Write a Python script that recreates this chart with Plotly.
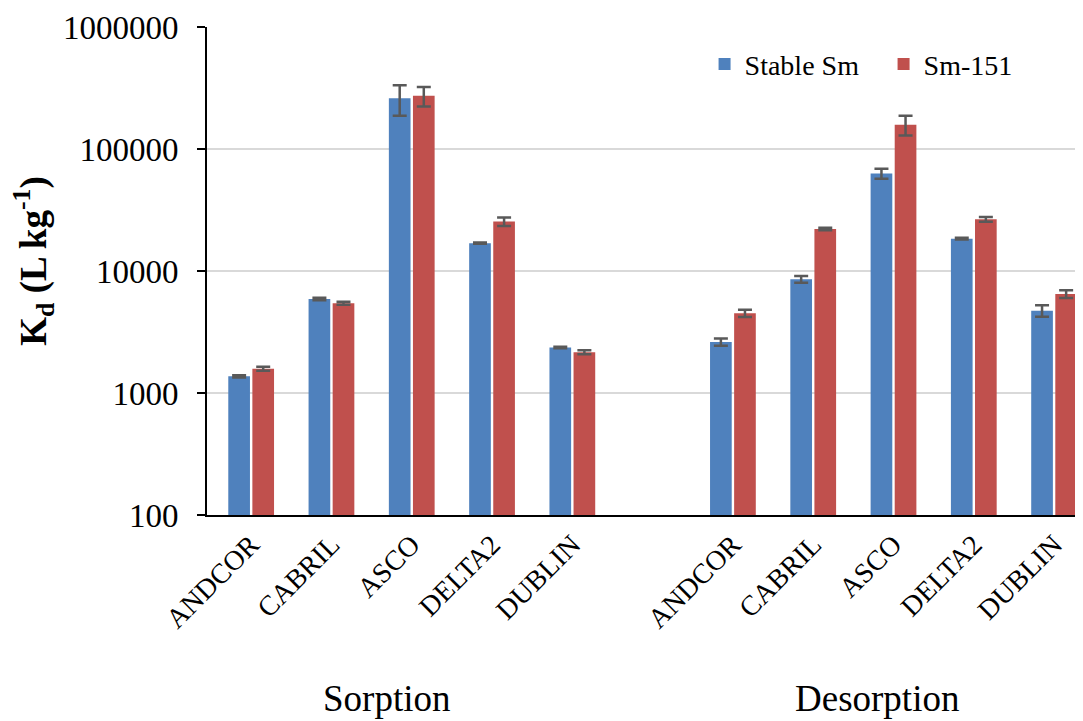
import plotly.graph_objects as go

categories = ["ANDCOR", "CABRIL", "ASCO", "DELTA2", "DUBLIN"]
groups = ["Sorption", "Desorption"]

sorption_stable = [1370, 5900, 260000, 16900, 2360]
sorption_stable_err = [30, 150, 73000, 200, 30]
sorption_sm151 = [1580, 5450, 273000, 25400, 2160]
sorption_sm151_err = [60, 150, 50000, 2000, 80]

desorption_stable = [2620, 8550, 63000, 18400, 4730]
desorption_stable_err = [180, 550, 5900, 300, 520]
desorption_sm151 = [4500, 22100, 158000, 26500, 6480]
desorption_sm151_err = [310, 500, 29000, 1200, 480]

y_tickvals = [100, 1000, 10000, 100000, 1000000]
y_ticktext = ["100", "1000", "10000", "100000", "1000000"]

# positions: 5 sorption slots, one empty slot, 5 desorption slots
xpos = list(range(0, 5)) + list(range(6, 11))
xlabels = categories + categories

stable = sorption_stable + desorption_stable
stable_err = sorption_stable_err + desorption_stable_err
sm151 = sorption_sm151 + desorption_sm151
sm151_err = sorption_sm151_err + desorption_sm151_err

FONT = "Liberation Serif, Times New Roman, serif"
ERRC = "#595959"

fig = go.Figure()
fig.add_trace(go.Bar(
    x=xpos, y=stable, name="Stable Sm",
    marker=dict(color="#4F81BD", line=dict(width=0)),
    error_y=dict(type="data", array=stable_err, visible=True,
                 color=ERRC, thickness=2.5, width=7),
))
fig.add_trace(go.Bar(
    x=xpos, y=sm151, name="Sm-151",
    marker=dict(color="#C0504D", line=dict(width=0)),
    error_y=dict(type="data", array=sm151_err, visible=True,
                 color=ERRC, thickness=2.5, width=7),
))

# page body has an 8px default margin, so the figure is 8px smaller
fig.update_layout(
    width=1075, height=713,
    margin=dict(l=199, r=0, t=19, b=206, autoexpand=False),
    paper_bgcolor="white", plot_bgcolor="white",
    barmode="group", bargap=0.4, bargroupgap=0.1,
    font=dict(family=FONT, color="black"),
    showlegend=True,
    legend=dict(orientation="h", x=0.568, y=0.975, xanchor="left", yanchor="top",
                font=dict(size=28, family=FONT), bgcolor="rgba(0,0,0,0)",
                itemwidth=30, tracegroupgap=0,
                entrywidth=134, entrywidthmode="pixels"),
)

fig.update_xaxes(
    tickmode="array", tickvals=xpos, ticktext=xlabels,
    range=[-0.55, 10.36], tickangle=-45,
    tickfont=dict(size=28, family=FONT),
    showline=True, linecolor="black", linewidth=2,
    showgrid=False, ticks="", zeroline=False, automargin=False,
)
fig.update_yaxes(
    type="log", range=[2, 6],
    tickmode="array", tickvals=y_tickvals, ticktext=y_ticktext,
    tickfont=dict(size=33, family=FONT),
    showline=True, linecolor="black", linewidth=2,
    ticks="outside", ticklen=8, tickwidth=2, tickcolor="black",
    ticklabelstandoff=12,
    showgrid=True, gridcolor="#D9D9D9", gridwidth=2,
    zeroline=False, automargin=False,
)

fig.add_annotation(
    text="<b>K<sub>d</sub> (L kg<sup>-1</sup>)</b>",
    xref="paper", yref="paper", x=-0.198, y=0.52,
    xanchor="center", yanchor="middle", textangle=-90,
    showarrow=False, font=dict(size=37, family=FONT, color="black"),
)
fig.add_annotation(
    text=groups[0], xref="x", yref="paper", x=1.69, y=-0.422,
    xanchor="center", yanchor="bottom", showarrow=False,
    font=dict(size=37, family=FONT, color="black"),
)
fig.add_annotation(
    text=groups[1], xref="x", yref="paper", x=7.79, y=-0.422,
    xanchor="center", yanchor="bottom", showarrow=False,
    font=dict(size=37, family=FONT, color="black"),
)

fig.write_html("out.html")
